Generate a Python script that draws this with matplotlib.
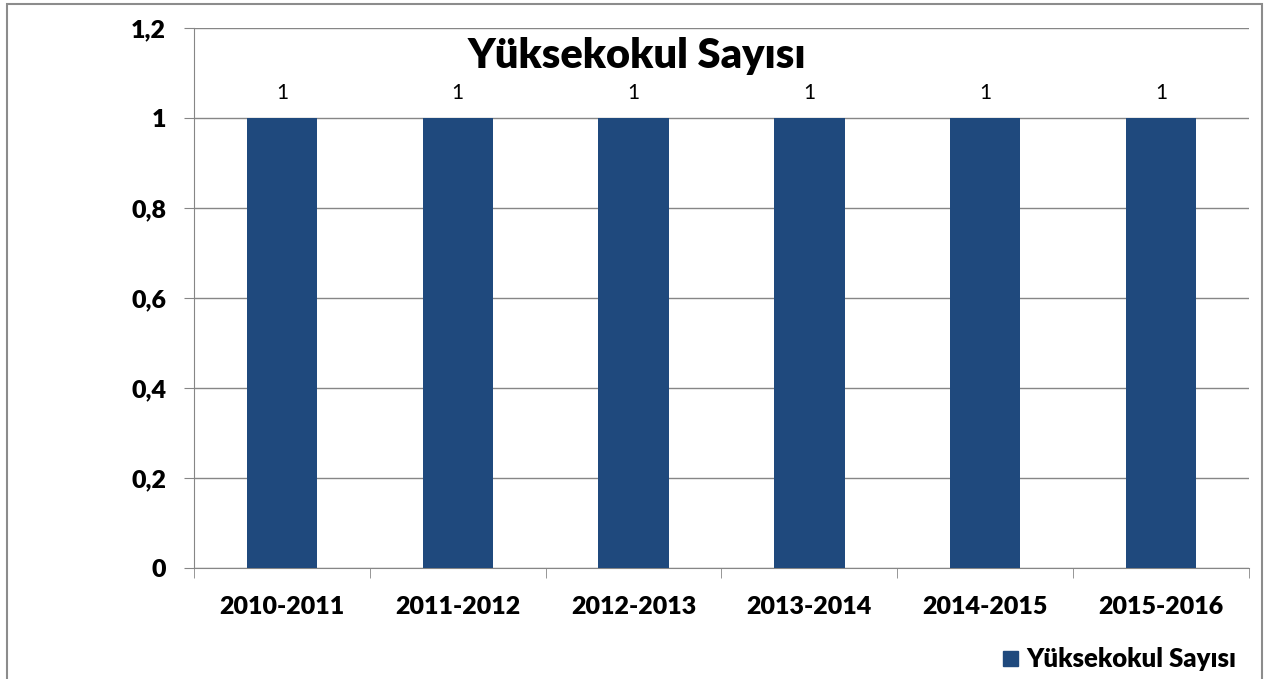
import matplotlib.pyplot as plt
from matplotlib.patches import Rectangle

years = ['2010-2011', '2011-2012', '2012-2013', '2013-2014', '2014-2015', '2015-2016']
counts = [1, 1, 1, 1, 1, 1]
yticks = [0, 0.2, 0.4, 0.6, 0.8, 1, 1.2]
ytick_labels = ['0', '0,2', '0,4', '0,6', '0,8', '1', '1,2']
series_name = 'Yüksekokul Sayısı'

plt.rcParams['font.family'] = ['Lato', 'DejaVu Sans']
bar_color = '#1F497D'
grid_color = '#868686'
w = 'heavy'

fig = plt.figure(figsize=(12.79, 6.79), dpi=100)
fig.patches.append(Rectangle((7 / 1279, -0.05), 1255 / 1279, 1.05 - 4 / 679,
                             transform=fig.transFigure, fill=False,
                             edgecolor='#8c8c8c', linewidth=1.5))

ax = fig.add_axes([194 / 1279, 111 / 679, 1055 / 1279, 540 / 679])
x = range(len(years))
bars = ax.bar(x, counts, width=0.4, color=bar_color, zorder=3)

ax.set_xlim(-0.5, len(years) - 0.5)
ax.set_ylim(0, 1.2)
ax.set_yticks(yticks)
ax.set_yticklabels(ytick_labels, fontsize=18, fontweight=w)
ax.set_xticks(list(x))
ax.set_xticklabels(years, fontsize=18, fontweight=w)
ax.tick_params(axis='x', length=0, pad=20)
ax.tick_params(axis='y', length=7, color=grid_color, pad=13)
ax.set_xticks([i - 0.5 for i in range(len(years) + 1)], minor=True)
ax.tick_params(axis='x', which='minor', length=7, color=grid_color)

ax.grid(axis='y', color=grid_color, linewidth=1, zorder=0)
for s in ['top', 'right']:
    ax.spines[s].set_visible(False)
ax.spines['left'].set_color(grid_color)
ax.spines['bottom'].set_color(grid_color)

for b, v in zip(bars, counts):
    ax.text(b.get_x() + b.get_width() / 2, v + 0.055, str(v),
            ha='center', va='center', fontsize=15)

fig.text(637 / 1279, 1 - 56 / 679, series_name, ha='center', va='center',
         fontsize=30, fontweight=w)

fig.patches.append(Rectangle((1003 / 1279, 1 - 666 / 679), 15 / 1279, 15 / 679,
                             transform=fig.transFigure, color=bar_color))
fig.text(1026 / 1279, 1 - 659 / 679, series_name, ha='left', va='center',
         fontsize=18.5, fontweight=w)

fig.savefig('out.png', dpi=100)
